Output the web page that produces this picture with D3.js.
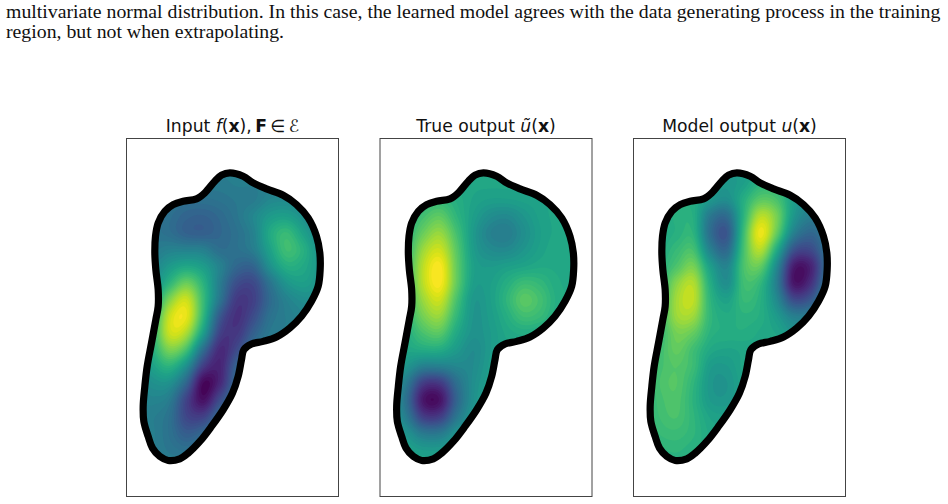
<!DOCTYPE html>
<html>
<head>
<meta charset="utf-8">
<script src="https://cdn.jsdelivr.net/npm/d3@7"></script>
<style>
html,body{margin:0;padding:0;background:#fff;}
svg{display:block;}
</style>
</head>
<body>
<svg id="fig" width="948" height="504"></svg>
<script>
// Caption lines printed above the figure
const captionLines = [
  "multivariate normal distribution. In this case, the learned model agrees with the data generating process in the training",
  "region, but not when extrapolating."
];

// Closed domain boundary, in mesh units
const boundaryX = [330,370,400,440,490,530,565,590,600,601,595,575,545,510,470,430,395,372,365,355,338,310,275,240,205,180,145,120,98,85,72,70,75,82,95,108,115,115,108,105,107,115,135,160,190,230,255,285,305];
const boundaryY = [190,200,220,238,257,285,325,380,430,480,530,575,620,655,682,695,703,720,750,800,850,900,950,995,1030,1047,1052,1040,1015,980,935,890,830,770,700,630,590,540,480,430,380,340,305,285,275,268,250,215,197];

// Sampling positions of the three scalar fields
const fieldXs = [50,100,150,200,250,300,350,400,450,500,550,600,650];
const fieldYs = [170,220,270,320,370,420,470,520,570,620,670,720,770,820,870,920,970,1020,1070];

// Field values on a 0-100 scale, one row per entry of fieldYs
const inputField = [
  [42,42,42,42,42,42,42,42,42,42,43,43,43],
  [42,42,42,41,41,41,42,42,42,43,43,43,43],
  [42,41,39,37,37,38,40,41,46,47,45,43,43],
  [42,40,36,32,31,34,39,46,54,56,50,43,43],
  [42,39,36,31,30,33,37,44,60,67,57,46,43],
  [42,41,44,44,43,36,37,42,57,69,63,50,45],
  [42,45,54,59,55,44,33,32,50,62,60,52,46],
  [43,49,65,77,64,42,24,22,38,52,56,51,47],
  [44,56,81,92,68,39,17,19,34,44,49,49,47],
  [45,63,92,96,66,28,14,23,37,42,45,47,46],
  [47,66,92,87,56,20,16,30,40,42,43,44,44],
  [47,63,80,70,36,12,22,37,42,42,42,42,42],
  [46,57,64,49,18,10,31,41,42,42,42,42,42],
  [44,50,50,32,2,11,35,42,42,42,42,42,42],
  [43,45,41,20,4,23,39,42,42,42,42,42,42],
  [42,42,37,21,19,35,42,42,42,42,42,42,42],
  [42,42,37,29,33,40,42,42,42,42,42,42,42],
  [42,42,39,37,40,42,42,42,42,42,42,42,42],
  [42,42,42,42,42,42,42,42,42,42,42,42,42]
];
const trueField = [
  [59,59,59,59,59,59,59,59,59,59,59,59,59],
  [59,59,61,61,60,59,59,59,59,59,59,59,59],
  [59,60,64,66,62,58,56,56,57,58,59,59,59],
  [59,62,70,75,65,56,49,47,52,57,59,60,60],
  [59,64,77,84,70,54,44,42,49,56,59,60,60],
  [60,66,85,92,74,55,48,47,52,57,60,60,60],
  [60,68,90,99,76,57,54,56,58,60,60,60,60],
  [60,68,90,99,76,56,56,62,68,66,61,60,60],
  [60,67,85,92,71,53,56,65,74,70,62,60,60],
  [59,65,79,84,66,52,55,62,69,67,61,60,60],
  [59,62,71,74,60,51,54,59,61,60,59,59,59],
  [59,59,61,61,54,48,54,58,59,59,59,59,59],
  [57,52,43,43,46,48,55,58,59,59,59,59,59],
  [56,41,18,17,36,49,56,58,59,59,59,59,59],
  [55,36,6,5,32,50,57,59,59,59,59,59,59],
  [56,41,18,18,39,53,58,59,59,59,59,59,59],
  [57,51,40,40,51,56,59,59,59,59,59,59,59],
  [59,57,54,54,57,59,59,59,59,59,59,59,59],
  [59,59,58,58,59,59,59,59,59,59,59,59,59]
];
const modelField = [
  [60,60,60,59,56,55,55,58,60,58,55,54,54],
  [60,60,60,60,55,53,56,64,64,58,52,50,50],
  [60,60,62,61,53,49,62,74,71,56,47,46,46],
  [60,60,63,62,40,35,64,89,79,53,42,43,44],
  [60,60,63,64,36,27,68,97,76,44,33,40,44],
  [60,61,67,70,44,34,70,89,61,26,22,38,45],
  [60,63,72,79,56,45,71,76,47,8,9,36,49],
  [60,65,82,88,62,49,69,66,42,6,13,40,51],
  [60,67,86,90,65,57,67,63,47,23,27,47,54],
  [61,68,85,85,66,61,64,62,54,43,43,52,55],
  [61,67,79,76,64,62,62,60,58,52,51,54,55],
  [63,69,76,69,60,58,59,60,60,60,57,56,56],
  [64,70,73,68,55,54,59,60,60,60,60,60,60],
  [64,71,73,65,53,52,58,60,60,60,60,60,60],
  [64,70,72,64,54,53,58,60,60,60,60,60,60],
  [64,69,71,65,58,57,59,60,60,60,60,60,60],
  [63,67,68,65,60,59,60,60,60,60,60,60,60],
  [62,64,65,63,61,60,60,60,60,60,60,60,60],
  [61,63,63,62,60,60,60,60,60,60,60,60,60]
];

// Panel titles as runs of [text, style]
const panelTitles = [
  [["Input ","n"],["f","i"],["(","n"],["x","b"],["),\u2009","n"],["F","b"],["\u2009∈\u2009","n"],["ℰ","i"]],
  [["True output ","n"],["ũ","i"],["(","n"],["x","b"],[")","n"]],
  [["Model output ","n"],["u","i"],["(","n"],["x","b"],[")","n"]]
];
const panelFields = [inputField, trueField, modelField];
const panelLefts = [126.5, 380, 633.5];

const panelW = 212, panelH = 358, panelTop = 138.5;
const levelCount = 48, refine = 10;

const svg = d3.select("#fig");

// Caption
svg.selectAll("text.caption").data(captionLines).join("text")
  .attr("class", "caption")
  .attr("x", 6)
  .attr("y", (d, i) => 17.5 + i * 20)
  .attr("font-family", "'Liberation Serif'")
  .attr("font-size", 19.8)
  .attr("fill", "#111")
  .text(d => d);

// Mesh units to panel pixels
const x = d3.scaleLinear().domain([20, 656]).range([0, panelW]);
const y = d3.scaleLinear().domain([87, 1160]).range([0, panelH]);

const outline = d3.line()
  .x((d, i) => x(boundaryX[i]))
  .y((d, i) => y(boundaryY[i]))
  .curve(d3.curveCatmullRomClosed.alpha(0.5));
const outlinePath = outline(boundaryX);

// Catmull-Rom resampling so that the filled contours come out smooth
function cubic(a, b, c, d, t) {
  return b + 0.5 * t * (c - a + t * (2 * a - 5 * b + 4 * c - d + t * (3 * (b - c) + d - a)));
}
function resample(rows) {
  const nr = rows.length, nc = rows[0].length;
  const w = (nc - 1) * refine + 1, h = (nr - 1) * refine + 1;
  const out = new Float64Array(w * h);
  const at = (r, c) => rows[Math.max(0, Math.min(nr - 1, r))][Math.max(0, Math.min(nc - 1, c))];
  for (let j = 0; j < h; j++) {
    const r = Math.min(nr - 2, Math.floor(j / refine)), tr = j / refine - r;
    for (let i = 0; i < w; i++) {
      const c = Math.min(nc - 2, Math.floor(i / refine)), tc = i / refine - c;
      const col = [-1, 0, 1, 2].map(dr =>
        cubic(at(r + dr, c - 1), at(r + dr, c), at(r + dr, c + 1), at(r + dr, c + 2), tc));
      out[j * w + i] = cubic(col[0], col[1], col[2], col[3], tr);
    }
  }
  return { values: out, w, h };
}

const colX = d3.scaleLinear().domain([0, (fieldXs.length - 1) * refine]).range([fieldXs[0], fieldXs[fieldXs.length - 1]]);
const rowY = d3.scaleLinear().domain([0, (fieldYs.length - 1) * refine]).range([fieldYs[0], fieldYs[fieldYs.length - 1]]);
const ringPath = d3.geoPath(d3.geoTransform({
  point(px, py) { this.stream.point(x(colX(px - 0.5)), y(rowY(py - 0.5))); }
}));

const color = d3.scaleSequential(d3.interpolateViridis).domain([0, 100]);
const levels = d3.range(levelCount).map(i => i * 100 / levelCount);

panelFields.forEach((rows, p) => {
  const g = svg.append("g").attr("transform", `translate(${panelLefts[p]},${panelTop})`);
  const clipId = "domain" + p;
  g.append("clipPath").attr("id", clipId).append("path").attr("d", outlinePath);

  const { values, w, h } = resample(rows);
  const bands = d3.contours().size([w, h]).thresholds(levels)(Array.from(values));
  const inner = g.append("g").attr("clip-path", `url(#${clipId})`);
  inner.append("path").attr("d", outlinePath).attr("fill", color(0));
  inner.selectAll("path.band").data(bands).join("path")
    .attr("class", "band")
    .attr("d", ringPath)
    .attr("fill", d => color(d.value + 50 / levelCount));

  g.append("path").attr("d", outlinePath)
    .attr("fill", "none").attr("stroke", "#000")
    .attr("stroke-width", 7.2).attr("stroke-linejoin", "round");

  g.append("rect").attr("width", panelW).attr("height", panelH)
    .attr("fill", "none").attr("stroke", "#444").attr("stroke-width", 1);

  const title = g.append("text")
    .attr("x", panelW / 2).attr("y", -6.5)
    .attr("text-anchor", "middle")
    .attr("font-family", "'DejaVu Sans'")
    .attr("font-size", 17.2)
    .attr("fill", "#111");
  title.selectAll("tspan").data(panelTitles[p]).join("tspan")
    .attr("font-style", d => d[1] === "i" ? "italic" : null)
    .attr("font-weight", d => d[1] === "b" ? "bold" : null)
    .style("white-space", "pre")
    .text(d => d[0]);
});
</script>
</body>
</html>
